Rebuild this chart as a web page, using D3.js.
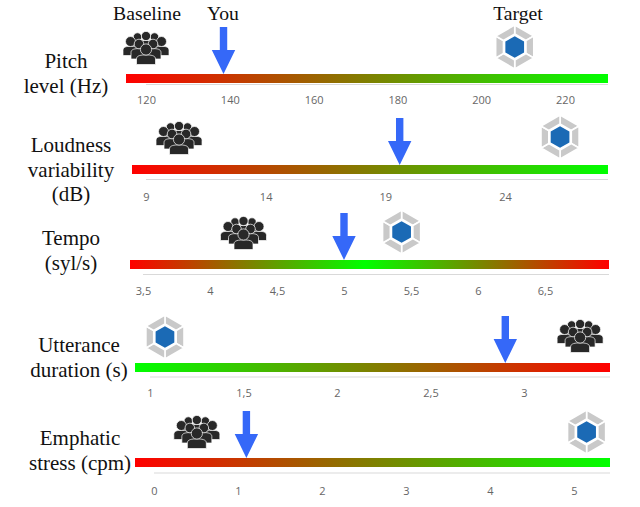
<!DOCTYPE html>
<html>
<head>
<meta charset="utf-8">
<script src="https://cdn.jsdelivr.net/npm/d3@7"></script>
<style>
  html, body { margin: 0; padding: 0; background: #fff; }
</style>
</head>
<body>
<div id="chart"></div>
<script>
const WIDTH = 640, HEIGHT = 507;

// values, one entry per row
const rowLabels = [
  ["Pitch", "level (Hz)"],
  ["Loudness", "variability", "(dB)"],
  ["Tempo", "(syl/s)"],
  ["Utterance", "duration (s)"],
  ["Emphatic", "stress (cpm)"]
];
const tickValues = [
  [120, 140, 160, 180, 200, 220],
  [9, 14, 19, 24],
  [3.5, 4, 4.5, 5, 5.5, 6, 6.5],
  [1, 1.5, 2, 2.5, 3],
  [0, 1, 2, 3, 4, 5]
];
const baselineValues = [120, 10.38, 4.25, 3.3, 0.51];
const youValues = [138.5, 19.6, 5.0, 2.9, 1.1];
const targetValues = [208, 26.3, 5.43, 1.08, 5.15];

// gradient stops along each bar: [offset, colour]
const gradients = [
  [[0, "#ff0000"], [1, "#00ff00"]],
  [[0, "#ff0000"], [1, "#00ff00"]],
  [[0, "#ff0000"], [0.49, "#00ff00"], [1, "#ff0000"]],
  [[0, "#00ff00"], [1, "#ff0000"]],
  [[0, "#ff0000"], [1, "#00ff00"]]
];

// layout of each row (the panels are not evenly placed in the original)
const layout = [
  { x0: 126, x1: 608, barY: 74, lineY: 84.5, lineX0: 146, tickX: [146, 565], tickY: 100, labelX: 66, labelY: 68, iconY: 48, targetY: 47, arrowTop: 27 },
  { x0: 132, x1: 608, barY: 165, lineY: 179.5, lineX0: 146, tickX: [146, 505], tickY: 197, labelX: 71, labelY: 152, iconY: 138, targetY: 137, arrowTop: 118 },
  { x0: 130, x1: 609, barY: 260, lineY: 274.5, lineX0: 143, tickX: [143, 545], tickY: 291, labelX: 71, labelY: 245, iconY: 233, targetY: 232, arrowTop: 213 },
  { x0: 135, x1: 610, barY: 363, lineY: 377, lineX0: 150, tickX: [150, 524], tickY: 393, labelX: 79, labelY: 352, iconY: 336, targetY: 337, arrowTop: 316 },
  { x0: 135, x1: 610, barY: 458, lineY: 473, lineX0: 154, tickX: [154, 574], tickY: 491, labelX: 80, labelY: 445, iconY: 432, targetY: 432, arrowTop: 411 }
];

const svg = d3.select("#chart").append("svg")
  .attr("width", WIDTH)
  .attr("height", HEIGHT)
  .style("display", "block");

const defs = svg.append("defs");

// crowd icon: [head x, head y, head r, body half width, body bottom]
const crowdShape = [
  [-8.5, -11, 4.2, 7, 2],
  [8.5, -11, 4.2, 7, 2],
  [0, -12, 4.6, 7, 2],
  [-15.5, -6.5, 5, 7.5, 7.5],
  [15.5, -6.5, 5, 7.5, 7.5],
  [-7, -4, 4.8, 8, 11],
  [7, -4, 4.8, 8, 11],
  [0, 1.5, 5.6, 9.5, 16.5]
];

const drawPeople = (g) => {
  crowdShape.forEach(([hx, hy, r, w, bottom]) => {
    const top = hy + r - 0.2;
    g.append("path")
      .attr("d", `M${hx - w},${bottom} V${top + 4} C${hx - w},${top + 0.5} ${hx - w * 0.5},${top} ${hx},${top} C${hx + w * 0.5},${top} ${hx + w},${top + 0.5} ${hx + w},${top + 4} V${bottom} Z`)
      .attr("fill", "#282828")
      .attr("stroke", "#fff")
      .attr("stroke-width", 0.7);
    g.append("circle")
      .attr("cx", hx)
      .attr("cy", hy)
      .attr("r", r)
      .attr("fill", "#282828")
      .attr("stroke", "#fff")
      .attr("stroke-width", 0.7);
  });
};

const hexPath = (r) => d3.range(6).map(i => {
  const a = Math.PI / 3 * i - Math.PI / 2;
  return [r * Math.cos(a), r * Math.sin(a)];
});

const drawTarget = (g) => {
  const outer = hexPath(22), inner = hexPath(13);
  d3.range(6).forEach(i => {
    const j = (i + 1) % 6;
    const pts = [outer[i], outer[j], inner[j], inner[i]];
    g.append("path")
      .attr("d", "M" + pts.map(p => p.join(",")).join("L") + "Z")
      .attr("fill", "#c9c9c9")
      .attr("stroke", "#fff")
      .attr("stroke-width", 1.6);
  });
  g.append("path")
    .attr("d", "M" + hexPath(10.8).map(p => p.join(",")).join("L") + "Z")
    .attr("fill", "#1b6ab5");
};

const drawArrow = (g, top, tip) => {
  g.append("path")
    .attr("d", `M-3.7,${top} H3.7 V${tip - 24} H11.7 L0,${tip} L-11.7,${tip - 24} H-3.7 Z`)
    .attr("fill", "#3568f8");
};

rowLabels.forEach((lines, i) => {
  const row = layout[i];
  const ticks = tickValues[i];
  const x = d3.scaleLinear()
    .domain([ticks[0], ticks[ticks.length - 1]])
    .range(row.tickX);

  const grad = defs.append("linearGradient")
    .attr("id", `bar-${i}`);
  grad.selectAll("stop")
    .data(gradients[i])
    .enter()
    .append("stop")
    .attr("offset", d => d[0])
    .attr("stop-color", d => d[1]);

  // faint rule just under the bar
  svg.append("line")
    .attr("x1", row.lineX0)
    .attr("x2", row.x1)
    .attr("y1", row.lineY)
    .attr("y2", row.lineY)
    .attr("stroke", "#d9d9d9");

  svg.append("rect")
    .attr("x", row.x0)
    .attr("y", row.barY)
    .attr("width", row.x1 - row.x0)
    .attr("height", 9)
    .attr("fill", `url(#bar-${i})`);

  const axis = d3.axisBottom(x)
    .tickValues(ticks)
    .tickSize(0)
    .tickFormat(d => String(d).replace(".", ","));
  const axisG = svg.append("g")
    .attr("transform", `translate(0,${row.tickY - 7})`)
    .call(axis);
  axisG.select(".domain").remove();
  axisG.selectAll("text")
    .attr("font-family", "'Open Sans', 'Noto Sans', sans-serif")
    .attr("font-size", 11)
    .attr("fill", "#666");

  const label = svg.append("text")
    .attr("text-anchor", "middle")
    .attr("font-family", "'Liberation Serif', serif")
    .attr("font-size", 21)
    .attr("fill", "#111");
  lines.forEach((t, k) => {
    label.append("tspan")
      .attr("x", row.labelX)
      .attr("y", row.labelY + k * 24.7)
      .text(t);
  });

  drawPeople(svg.append("g").attr("transform", `translate(${x(baselineValues[i])},${row.iconY})`));
  drawTarget(svg.append("g").attr("transform", `translate(${x(targetValues[i])},${row.targetY})`));
  drawArrow(svg.append("g").attr("transform", `translate(${x(youValues[i])},0)`), row.arrowTop, row.barY);
});

// column headers over the first row
const headerNames = ["Baseline", "You", "Target"];
const headerX = [147, 223, 518];
svg.selectAll(".header")
  .data(headerNames)
  .enter()
  .append("text")
  .attr("class", "header")
  .attr("x", (d, i) => headerX[i])
  .attr("y", 20)
  .attr("text-anchor", "middle")
  .attr("font-family", "'Liberation Serif', serif")
  .attr("font-size", 19.7)
  .attr("fill", "#111")
  .text(d => d);
</script>
</body>
</html>
